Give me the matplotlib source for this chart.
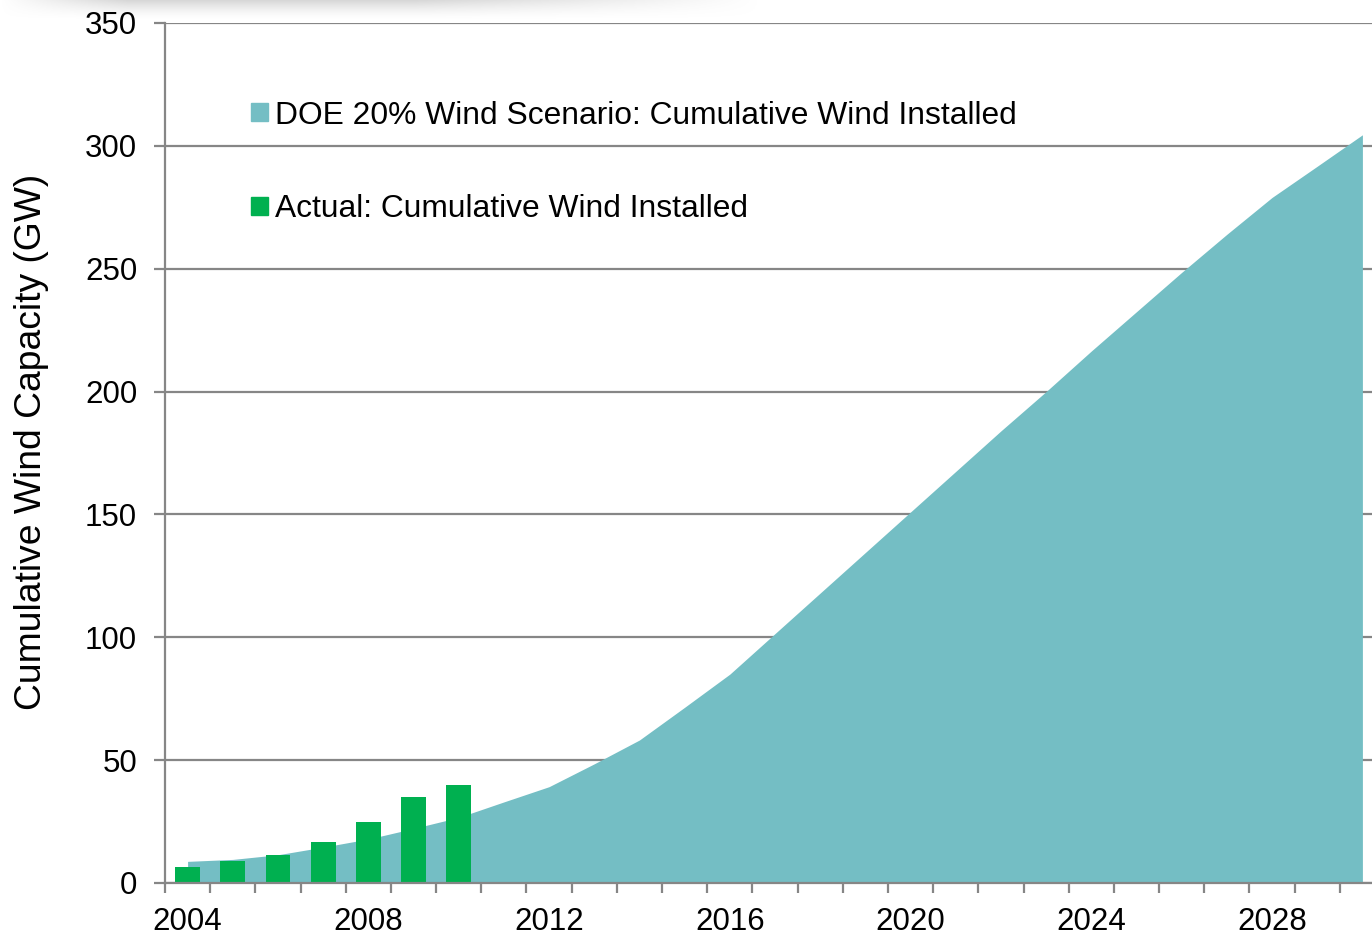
import matplotlib.pyplot as plt
import numpy as np
from matplotlib.patches import Patch

plt.rcParams['font.family'] = ['Liberation Sans', 'DejaVu Sans']

# Data (GW)
years = list(range(2004, 2031))
scenario_gw = [8.8, 9.6, 11.5, 14.6, 17.9, 22.2, 26.7, 33.0, 39.2, 48.5, 58.2, 71.5, 85.0,
               101.5, 118.0, 134.5, 151.0, 167.5, 184.0, 200.0, 216.5, 232.5, 248.5,
               264.0, 279.0, 291.7, 304.5]
actual_years = list(range(2004, 2011))
actual_gw = [6.7, 9.1, 11.5, 16.8, 25.0, 35.0, 40.0]
label_years = [2004, 2008, 2012, 2016, 2020, 2024, 2028]

scenario_label = 'DOE 20% Wind Scenario: Cumulative Wind Installed'
actual_label = 'Actual: Cumulative Wind Installed'

area_color = '#74BEC4'
bar_color = '#00B050'
grid_color = '#868686'

fig = plt.figure(figsize=(13.72, 9.36), dpi=100)

# faint grey shadow along the top-left edge of the original slide
sh = fig.add_axes([0, 1 - 20 / 936, 760 / 1372, 20 / 936])
h, w = 20, 380
vert = np.linspace(1, 0, h)[:, None] ** 1.5
horiz = np.clip(np.minimum(np.linspace(0, 6, w), np.linspace(2.2, 0, w)), 0, 1)[None, :]
rgba = np.zeros((h, w, 4))
rgba[..., :3] = 0.72
rgba[..., 3] = 0.55 * vert * horiz
sh.imshow(rgba, aspect='auto', extent=(0, 1, 0, 1))
sh.axis('off')

# axes run a little past the right edge, like the cropped original
ax = fig.add_axes([165 / 1372, 53 / 936, 1220 / 1372, 860 / 936])

x = np.array(years) - years[0]
xa = np.array(actual_years) - years[0]

ax.fill_between(x, scenario_gw, 0, color=area_color, lw=0, zorder=2)
ax.bar(xa, actual_gw, width=0.55, color=bar_color, zorder=3)

ax.set_xlim(-0.5, len(years) - 0.5)
ax.set_ylim(0, 350)

# gridlines
ax.set_yticks(np.arange(0, 351, 50))
ax.yaxis.grid(True, color=grid_color, lw=1.6)
ax.set_axisbelow(True)

for s in ['top', 'right']:
    ax.spines[s].set_visible(False)
for s in ['left', 'bottom']:
    ax.spines[s].set_color(grid_color)
    ax.spines[s].set_linewidth(1.6)
    ax.spines[s].set_zorder(4)

# category axis: ticks between years, labels every 4 years
ax.set_xticks(np.array(label_years) - years[0])
ax.set_xticklabels([str(y) for y in label_years])
ax.set_xticks(np.arange(-0.5, len(years), 1), minor=True)
ax.tick_params(axis='x', which='major', length=0, pad=17, labelsize=22.5)
ax.tick_params(axis='x', which='minor', length=7.5, width=1.6, color=grid_color)
ax.tick_params(axis='y', length=8, width=1.6, color=grid_color, pad=12, labelsize=22.5)

ax.set_ylabel('Cumulative Wind Capacity (GW)', fontsize=26.8)
ax.yaxis.set_label_coords(-0.095, 0.513)

handles = [Patch(color=area_color), Patch(color=bar_color)]
ax.legend(handles, [scenario_label, actual_label], loc='upper left',
          bbox_to_anchor=(251 / 1372, 1 - 100.5 / 936), bbox_transform=fig.transFigure,
          frameon=False, fontsize=22.9, handlelength=0.52, handleheight=0.52,
          handletextpad=0.22, labelspacing=2.0, borderpad=0, borderaxespad=0)

fig.savefig('out.png', dpi=100)
